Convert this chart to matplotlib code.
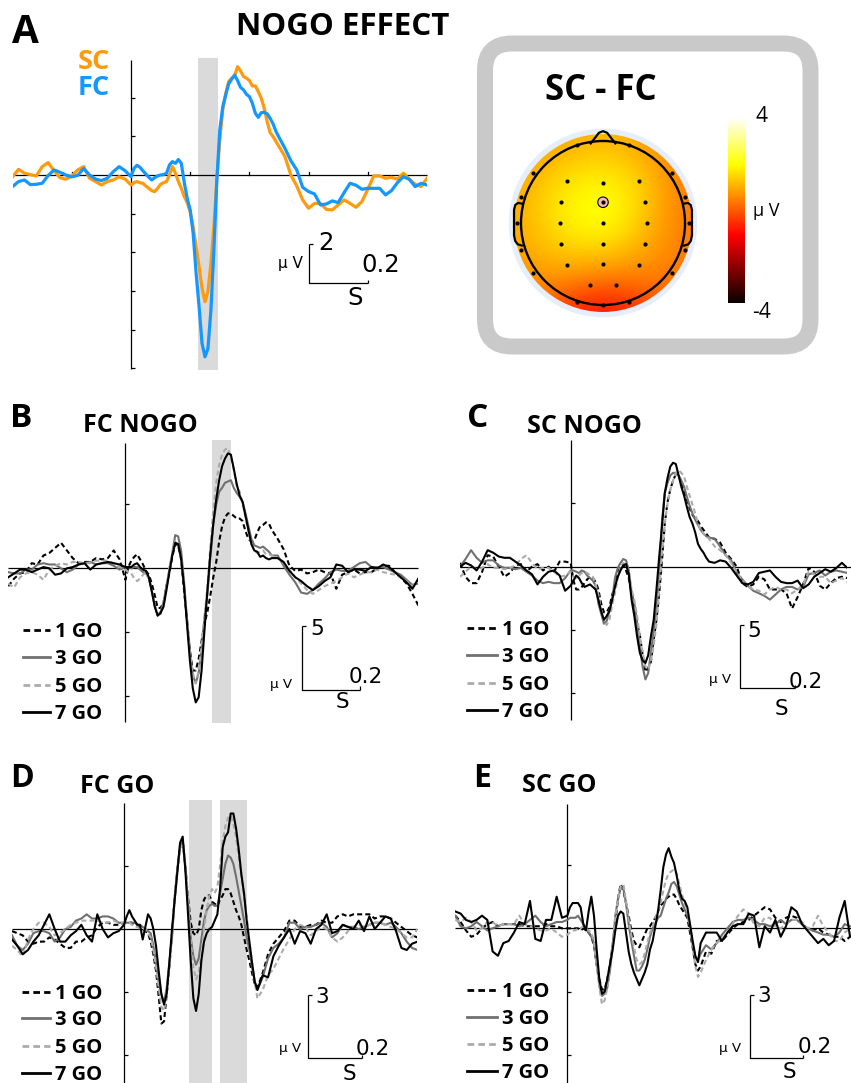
import numpy as np
import matplotlib
matplotlib.use('Agg')
import matplotlib.pyplot as plt
from matplotlib.patches import FancyBboxPatch, Circle

plt.rcParams['font.family'] = ['Open Sans', 'DejaVu Sans']

# ---------------- time axes (s) ----------------
T_NOGO = np.round(np.concatenate([np.arange(-0.40, -0.001, 0.02),
                                  np.arange(0.00, 0.495, 0.01),
                                  np.arange(0.50, 1.001, 0.02)]), 3)
T_GO = np.round(np.concatenate([np.arange(-0.42, -0.001, 0.02),
                                np.arange(0.00, 0.495, 0.01),
                                np.arange(0.50, 1.101, 0.02)]), 3)

# ---------------- panel A: NOGO effect (uV) ----------------
A_SC = [-0.09, 0.29, 0.09, 0.02, -0.05, 0.43, 0.64, 0.22, -0.14, -0.22,
        -0.05, 0.26, 0.43, -0.17, -0.34, -0.52, -0.34, -0.26, -0.09, -0.21,
        -0.52, -0.40, -0.34, -0.40, -0.43, -0.57, -0.69, -0.81, -0.86, -0.69,
        -0.48, -0.40, -0.34, 0.00, 0.43, 0.09, -0.34, -0.69, -1.12, -1.43,
        -1.90, -2.67, -3.71, -4.74, -5.86, -6.55, -6.03, -4.57, -2.67, -0.26,
        1.81, 3.36, 4.22, 4.83, 5.00, 5.12, 5.60, 5.38, 5.09, 5.00,
        4.88, 4.60, 4.60, 4.31, 3.97, 3.45, 2.76, 2.19, 1.98, 1.72,
        1.47, 0.95, 0.00, -0.57, -1.29, -1.72, -1.47, -1.47, -1.78, -1.81,
        -1.55, -1.29, -1.47, -1.67, -1.38, -0.74, -0.05, -0.05, -0.17, -0.12,
        -0.22, 0.09, -0.22, -0.48, -0.60, -0.17]
A_FC = [-0.60, -0.34, -0.26, -0.50, -0.48, -0.43, -0.03, 0.26, 0.14, 0.00,
        -0.10, -0.02, 0.33, 0.00, -0.21, -0.29, -0.17, 0.17, 0.43, 0.22,
        -0.09, 0.34, 0.50, 0.40, 0.22, 0.05, -0.12, -0.26, -0.14, -0.05,
        0.00, 0.02, 0.09, 0.52, 0.69, 0.60, 0.80, 0.60, -0.40, -1.21,
        -1.81, -3.02, -5.09, -6.81, -8.71, -9.40, -8.97, -6.98, -3.88, -0.26,
        2.33, 3.53, 4.14, 4.71, 4.95, 5.16, 4.88, 4.53, 4.40, 4.17,
        4.05, 3.71, 3.19, 2.98, 3.22, 3.24, 3.16, 2.93, 2.64, 2.24,
        1.95, 1.38, 0.74, 0.26, -0.64, -0.86, -0.98, -1.55, -1.50, -1.34,
        -1.43, -0.91, -0.43, -0.53, -0.74, -0.69, -0.69, -0.69, -1.03, -0.81,
        -0.40, -0.09, -0.22, -0.60, -0.43, -0.52]

# ---------------- panel B: FC NOGO ----------------
B_1GO = [-1.4, -0.8, -0.4, -0.3, 0.4, 0.3, 1.0, 1.2, 1.6, 2.0,
         1.4, 0.8, 0.4, 0.5, 0.5, 0.8, 0.7, 0.8, 1.4, 0.7,
         -0.9, 0.1, 0.6, 0.9, 1.1, 0.7, 0.3, -0.2, -0.5, -1.2,
         -2.1, -3.1, -3.1, -2.7, -1.4, -0.3, 0.9, 1.9, 1.8, 0.7,
         -1.7, -4.0, -6.4, -8.0, -8.0, -7.1, -5.7, -4.3, -3.4, -2.1,
         -0.7, 0.5, 2.1, 3.3, 4.0, 4.3, 4.3, 4.1, 3.9, 3.9,
         3.7, 2.9, 2.3, 2.1, 2.2, 2.8, 3.3, 3.4, 3.6, 3.5,
         3.0, 2.3, 1.5, 0.2, -0.2, -0.1, -0.4, -0.3, -0.1, -0.3,
         -0.4, -1.6, -0.5, -0.3, -0.1, -0.4, -0.3, -0.3, 0.0, 0.2,
         0.2, -0.3, -0.7, -1.2, -2.0, -2.9]
B_3GO = [-0.3, -0.4, -0.4, -0.1, -0.1, 0.3, 0.4, 0.3, 0.3, 0.0,
         -0.3, -0.1, 0.3, 0.4, 0.5, 0.3, 0.4, 0.4, 0.2, -0.1,
         0.1, 0.1, 0.0, 0.1, 0.1, -0.1, -0.3, -0.4, -0.8, -1.8,
         -2.9, -3.7, -3.4, -2.7, -1.4, -0.1, 1.2, 2.6, 2.5, 1.4,
         -1.0, -4.0, -6.4, -8.4, -9.0, -8.2, -6.3, -3.8, -2.0, 0.7,
         3.5, 5.0, 6.0, 6.3, 6.7, 6.8, 6.9, 6.3, 5.9, 5.6,
         5.2, 4.3, 3.3, 2.3, 1.8, 1.7, 1.6, 1.7, 1.5, 1.3,
         1.0, 1.0, 0.2, -0.5, -1.1, -1.9, -2.0, -1.7, -1.2, -0.8,
         -0.3, -0.1, -0.2, -0.2, 0.1, 0.4, 0.5, 0.1, 0.1, 0.1,
         -0.1, -0.3, -0.5, -0.9, -1.3, -1.2]
B_5GO = [-1.2, -1.5, -0.7, -0.4, -0.3, -0.5, -0.9, -0.1, 0.2, 0.4,
         0.3, 0.5, 0.5, 0.4, 0.4, 0.6, 0.6, 0.6, 0.4, 0.1,
         -0.1, -0.3, -0.4, -0.8, -1.0, -0.8, -0.5, -0.3, -0.8, -1.7,
         -2.9, -3.5, -3.6, -2.9, -1.6, 0.0, 1.2, 2.1, 1.8, 0.7,
         -1.2, -3.8, -6.4, -8.2, -9.0, -8.0, -6.1, -3.8, -1.4, 1.7,
         4.6, 6.7, 8.1, 8.9, 9.3, 9.4, 8.7, 7.7, 6.4, 6.0,
         5.1, 4.0, 2.9, 1.9, 1.4, 1.2, 1.3, 1.4, 1.1, 1.1,
         1.0, 0.8, 0.4, -0.1, -0.7, -1.2, -1.7, -2.0, -1.7, -1.4,
         -1.2, -1.0, -0.7, -0.4, -0.7, -0.5, -0.3, -0.3, -0.1, -0.3,
         -0.4, -0.5, -0.7, -1.0, -1.4, -1.0]
B_7GO = [-0.7, -0.4, -0.1, -0.1, -0.3, -0.1, 0.1, 0.0, -0.5, -0.4,
         0.0, 0.1, 0.3, 0.4, -0.1, 0.3, 0.4, 0.5, 0.4, 0.3,
         0.1, 0.1, 0.1, 0.3, 0.4, 0.1, -0.1, -0.2, -0.7, -1.8,
         -3.0, -3.7, -3.5, -3.0, -1.7, -0.3, 1.0, 2.0, 1.9, 0.8,
         -1.4, -4.3, -7.2, -9.4, -10.5, -10.1, -8.0, -4.8, -1.7, 1.2,
         3.5, 5.4, 6.9, 8.0, 8.6, 9.0, 8.9, 7.8, 6.6, 5.7,
         5.2, 4.1, 3.0, 1.9, 1.4, 1.3, 0.9, 1.0, 0.8, 0.7,
         0.8, 0.8, 0.5, -0.2, -0.7, -1.0, -1.4, -1.7, -1.4, -1.0,
         -0.7, 0.3, 0.2, -0.3, -0.1, -0.1, -0.2, 0.1, 0.0, 0.3,
         0.1, -0.3, -0.7, -1.1, -1.6, -0.8]

# ---------------- panel C: SC NOGO ----------------
C_1GO = [0.3, -0.8, -1.3, -1.3, -0.4, 0.9, 0.8, 0.0, -0.8, -0.5,
         0.1, 0.2, -0.4, 0.0, 0.2, -0.3, 0.0, -0.4, 0.4, 0.4,
         0.3, -1.1, -1.8, -1.8, -1.6, -1.3, -1.0, -0.8, -0.9, -1.2,
         -1.8, -2.9, -3.6, -3.6, -3.2, -2.2, -1.6, -0.4, -0.1, 0.2,
         -0.3, -0.9, -2.1, -3.2, -4.5, -5.4, -7.0, -8.3, -8.0, -7.5,
         -5.7, -4.2, -2.1, 0.5, 3.4, 5.1, 6.1, 6.8, 7.3, 7.2,
         6.6, 5.9, 5.3, 4.6, 4.1, 3.8, 3.6, 3.2, 2.9, 2.6,
         2.3, 2.2, 1.9, 1.1, 0.6, 0.0, -1.3, -1.6, -1.4, -0.8,
         -1.0, -1.8, -1.8, -1.8, -2.1, -3.3, -2.4, -1.4, -0.1, -0.4,
         -1.5, -1.8, -1.3, -0.9, -0.8, -0.9]
C_3GO = [0.0, 0.6, 1.3, 0.7, 0.3, 0.5, 0.5, 0.1, -0.1, -0.1,
         -0.2, -0.1, -0.4, -0.7, -1.1, -1.3, -1.2, -1.3, -1.3, -0.9,
         -0.3, -0.3, -0.4, -0.5, -0.3, -0.4, -0.7, -0.9, -1.1, -1.5,
         -2.9, -3.7, -4.5, -4.3, -3.5, -2.6, -0.9, -0.1, 0.3, 0.6,
         0.5, -0.3, -2.0, -2.9, -4.5, -6.4, -7.9, -8.9, -8.4, -6.8,
         -5.1, -3.4, -0.7, 3.6, 5.8, 6.6, 7.2, 7.4, 7.4, 7.2,
         6.8, 6.3, 5.5, 4.8, 4.2, 3.7, 3.3, 2.9, 2.6, 2.4,
         2.3, 2.2, 1.6, 0.9, 0.5, -0.5, -1.0, -1.5, -1.9, -2.1,
         -2.3, -2.6, -2.2, -1.8, -1.6, -1.6, -1.8, -1.6, -0.6, -0.5,
         -0.3, -0.7, -0.4, -0.3, -0.4, -0.5]
C_5GO = [-0.8, -0.4, 0.0, -0.2, -0.1, 0.2, -0.1, -0.1, -0.2, -0.1,
         0.1, 0.6, 0.9, 0.3, -0.2, -0.1, -0.1, -0.4, -0.8, -0.7,
         -0.4, -0.8, -0.9, -0.7, -0.5, -0.4, -0.5, -0.7, -0.8, -1.4,
         -2.2, -3.4, -4.3, -4.6, -4.2, -3.0, -2.1, -0.9, -0.1, 0.3,
         0.1, -0.4, -1.8, -2.6, -3.9, -5.5, -6.7, -7.9, -8.1, -7.4,
         -6.2, -4.5, -1.8, 1.1, 3.4, 5.0, 6.1, 6.8, 7.4, 7.6,
         7.4, 7.1, 6.3, 5.6, 4.9, 4.2, 3.4, 2.9, 2.6, 2.4,
         2.2, 1.6, 1.3, 0.9, 0.3, -0.5, -1.1, -1.5, -1.8, -1.9,
         -2.2, -1.8, -1.6, -1.8, -1.8, -2.1, -1.8, -1.4, -0.4, -0.6,
         -0.8, -0.8, -1.3, -1.1, -0.9, -1.2]
C_7GO = [0.0, 0.3, 0.1, -0.3, 0.4, 1.3, 1.1, 0.8, 0.7, 0.7,
         0.4, 0.1, -0.3, -0.6, -1.4, -0.8, -0.4, -0.3, -0.7, -1.9,
         -1.5, -1.1, -0.7, -0.9, -1.3, -1.6, -1.5, -1.4, -1.6, -1.8,
         -2.6, -3.5, -4.2, -3.9, -3.5, -2.6, -1.6, -0.8, -0.3, 0.1,
         0.2, -0.6, -2.6, -3.9, -5.5, -6.8, -7.4, -7.6, -7.0, -5.5,
         -4.2, -1.8, 0.8, 3.2, 5.8, 7.0, 7.9, 8.2, 8.1, 7.2,
         6.3, 5.6, 4.7, 3.9, 3.4, 2.7, 1.8, 1.4, 1.1, 0.7,
         0.4, 0.3, 0.5, 0.4, -0.1, -0.7, -1.3, -1.4, -1.2, -0.5,
         -0.4, -0.3, -0.8, -1.2, -1.3, -1.3, -1.1, -1.7, -1.4, -0.8,
         -0.5, -0.2, -0.4, -0.1, 0.3, -0.1]

# ---------------- panel D: FC GO ----------------
D_1GO = [-0.1, -0.2, -0.3, -0.6, -0.7, -0.6, -0.6, -0.4, -0.5, -0.7,
         -0.9, -0.9, -0.6, -0.6, -0.4, -0.3, 0.1, 0.3, 0.3, 0.2,
         0.2,
         0.3, 0.3, 0.3, 0.3, 0.2, 0.2, 0.1, 0.0, -0.1, -0.2,
         -0.6, -1.2, -2.0, -3.2, -4.5, -4.4, -3.1, -1.8, -0.2, 1.5,
         2.8, 3.9, 4.2, 3.0, 1.5, 0.3, -0.2, -0.3, 0.0, 0.9,
         1.4, 1.6, 1.6, 1.3, 1.2, 1.1, 1.4, 1.6, 1.9, 1.9,
         1.7, 1.3, 0.9, 0.6, 0.2, -0.4, -1.0, -1.5, -2.1, -2.6,
         -2.8, -2.1, -1.2, -0.7, -0.4, -0.1, 0.4, 0.4, 0.1, 0.1,
         0.2, 0.2, 0.4, 0.3, 0.3, 0.6, 0.7, 0.6, 0.7, 0.7,
         0.7, 0.7, 0.5, 0.6, 0.6, 0.5, 0.3, 0.1, -0.1, -0.3,
         -0.4]
D_3GO = [-0.3, -0.8, -1.0, -0.7, -0.2, -0.1, -0.1, -0.2, -0.6, -0.4,
         0.0, 0.1, 0.4, 0.5, 0.7, 0.5, 0.5, 0.6, 0.6, 0.5,
         0.3,
         0.3, 0.3, 0.3, 0.3, 0.3, 0.2, 0.2, 0.1, 0.0, -0.1,
         -0.2, -0.8, -1.6, -2.5, -3.1, -3.5, -2.8, -1.6, -0.4, 1.5,
         2.9, 3.9, 4.2, 3.0, 1.2, -0.4, -1.3, -1.7, -1.4, -0.5,
         0.4, 0.9, 1.1, 1.2, 1.1, 1.1, 1.7, 2.4, 3.1, 3.5,
         3.4, 3.1, 2.5, 1.8, 1.1, 0.4, -0.4, -1.0, -1.8, -2.5,
         -2.9, -2.3, -1.4, -0.9, -0.7, -0.4, 0.3, 0.3, 0.0, 0.1,
         0.1, 0.2, 0.3, 0.1, -0.4, -0.2, 0.2, 0.1, 0.1, 0.0,
         0.1, 0.2, 0.3, 0.3, 0.2, 0.3, 0.1, -0.2, -0.6, -0.9,
         -1.0]
D_5GO = [-0.8, -1.0, -1.3, -0.5, 0.0, 0.3, 0.3, 0.1, -0.3, -0.2,
         0.0, 0.2, 0.3, 0.4, 0.4, 0.4, 0.4, 0.3, 0.3, 0.4,
         0.3,
         0.3, 0.3, 0.3, 0.2, 0.1, 0.1, 0.0, 0.0, 0.0, -0.2,
         -0.4, -1.0, -1.8, -2.8, -3.7, -3.9, -3.1, -1.8, -0.2, 1.4,
         2.7, 3.8, 4.0, 3.0, 1.4, -0.5, -1.8, -2.4, -2.1, -1.2,
         0.0, 0.9, 1.6, 1.9, 1.7, 2.0, 3.0, 4.2, 4.9, 5.3,
         5.4, 5.0, 4.4, 3.4, 2.5, 1.5, 0.6, -0.6, -1.6, -2.5,
         -3.3, -2.9, -2.2, -1.9, -1.4, -0.9, -0.5, 0.0, 0.2, 0.1,
         -0.3, -0.1, 0.1, 0.0, -0.4, -0.6, -0.4, -0.1, 0.1, 0.2,
         0.1, 0.2, 0.3, 0.3, 0.2, 0.1, 0.0, -0.2, -0.4, -0.4,
         0.0]
D_7GO = [-0.5, -0.8, -1.2, -1.0, -0.6, -0.3, 0.2, 0.7, 0.0, -0.6,
         -0.6, -0.3, -0.1, 0.2, -0.3, -0.6, 0.7, 0.0, -0.4, -0.2,
         -0.1,
         0.2, 0.6, 0.9, 0.6, 0.4, 0.2, 0.2, -0.5, 0.1, 0.7,
         0.5, 0.0, -0.8, -2.0, -3.1, -3.6, -3.1, -1.6, 0.0, 1.4,
         2.7, 4.1, 4.4, 2.8, 0.7, -1.5, -3.3, -3.9, -3.1, -1.5,
         -0.6, -0.2, 0.0, 0.1, 0.4, 0.7, 1.9, 3.9, 4.4, 4.6,
         5.5, 5.5, 4.8, 3.8, 2.6, 1.7, 0.4, -0.6, -1.6, -2.5,
         -2.9, -2.2, -2.3, -1.3, -0.8, -0.4, 0.0, -0.7, -0.1, -0.2,
         -0.7, 0.0, 0.2, 0.7, -0.2, -0.1, 0.2, 0.1, 0.0, 0.4,
         -0.1, 0.6, 0.0, 0.3, 0.6, 0.5, -0.1, -0.9, -1.0, -0.7,
         -0.6]

# ---------------- panel E: SC GO (visible up to 1.06 s) ----------------
E_1GO = [0.6, 0.3, -0.1, -0.4, -0.3, 0.0, 0.2, 0.3, 0.1, 0.2,
         0.2, 0.2, 0.2, 0.1, 0.1, 0.1, 0.1, 0.2, 0.1, 0.1,
         0.0,
         0.0, 0.0, 0.0, 0.0, 0.0, -0.1, 0.0, -0.1, -0.2, -0.4,
         -0.8, -1.7, -2.4, -2.9, -2.9, -2.4, -1.7, -0.8, 0.3, 1.4,
         2.1, 1.8, 1.2, 0.6, -0.1, -0.6, -0.8, -0.9, -0.6, -0.3,
         0.0, 0.1, 0.3, 0.5, 0.8, 1.1, 1.2, 1.4, 1.5, 1.6,
         1.6, 1.4, 1.1, 0.9, 0.7, 0.5, -0.2, -0.9, -1.7, -2.0,
         -1.8, -1.1, -1.2, -0.6, -0.6, -0.3, 0.0, 0.2, 0.3, 0.4,
         0.6, 0.8, 1.0, 0.9, 0.5, 0.3, 0.5, 0.6, 0.5, 0.2,
         0.0, -0.1, 0.0, -0.2, -0.3, -0.4, -0.4, -0.6, -0.4]
E_3GO = [0.6, 0.1, 0.0, 0.1, 0.3, 0.1, -0.1, 0.0, 0.1, 0.2,
         0.2, 0.2, 0.1, 0.2, 0.4, 0.6, 0.3, 0.1, 0.2, 0.3,
         0.3,
         0.4, 0.5, 0.5, 0.5, 0.6, 0.4, 0.2, 0.0, -0.2, -0.4,
         -0.7, -1.7, -2.7, -3.2, -3.1, -2.8, -2.0, -0.9, 0.6, 1.4,
         1.9, 1.9, 1.2, 0.2, -0.6, -1.3, -2.0, -2.0, -1.8, -1.5,
         -1.0, -0.4, 0.0, 0.2, 0.5, 0.6, 1.0, 1.4, 1.7, 2.1,
         2.2, 2.0, 1.6, 1.2, 0.9, 0.6, 0.1, -0.8, -1.4, -1.5,
         -1.2, -0.8, -1.0, -0.7, -0.3, 0.0, 0.3, 0.4, 0.4, 0.5,
         0.4, 0.2, 0.2, 0.1, 0.2, 0.4, 0.2, 0.4, 0.4, 0.2,
         0.0, -0.1, -0.2, -0.3, -0.3, -0.4, -0.2, 0.2, 0.1]
E_5GO = [0.4, 0.3, 0.5, 0.3, -0.1, 0.0, 0.3, 0.3, 0.1, 0.2,
         0.2, 0.2, 0.6, 0.2, 0.1, 0.0, -0.1, -0.1, 0.0, -0.2,
         -0.4,
         -0.3, -0.2, -0.1, -0.1, 0.0, 0.0, 0.1, 0.0, -0.1, -0.2,
         -0.6, -1.7, -2.8, -3.6, -3.4, -2.8, -1.8, -0.7, 0.6, 1.4,
         2.0, 2.1, 1.3, 0.4, -0.3, -0.9, -1.5, -1.7, -1.6, -1.2,
         -0.7, -0.2, 0.1, 0.5, 0.8, 1.2, 1.8, 2.3, 2.6, 2.7,
         2.8, 2.6, 2.1, 1.6, 1.2, 0.8, 0.1, -0.9, -1.8, -2.3,
         -2.1, -1.5, -1.0, -0.7, -0.5, -0.2, 0.2, 0.6, 0.9, 0.7,
         0.2, 0.1, 0.5, 0.5, 0.1, 0.0, 0.2, 0.4, 0.4, 0.3,
         0.0, 0.1, 0.6, 0.1, -0.2, -0.6, -0.6, -0.2, 0.0]
E_7GO = [0.8, 0.7, 0.4, 0.3, 0.4, 0.6, 0.4, -1.1, -1.3, -0.7,
         -0.6, -0.2, 0.3, 0.2, 1.3, -0.5, -0.6, 0.4, 0.4, 1.5,
         0.5,
         0.6, 1.0, 1.2, 1.2, 1.2, 1.0, 0.2, -0.1, 0.8, 1.5,
         0.6, -1.0, -2.4, -3.1, -3.0, -2.4, -1.7, -1.0, -0.1, 0.6,
         0.8, 0.7, -0.2, -1.1, -1.7, -2.1, -2.4, -2.7, -2.4, -2.1,
         -1.7, -1.0, -0.6, 0.1, 0.8, 1.8, 2.9, 3.5, 3.8, 3.4,
         3.1, 2.5, 1.8, 1.4, 1.3, 1.0, 0.2, -0.6, -1.3, -1.6,
         -0.7, -0.2, -0.2, -0.2, -0.6, -0.2, 0.1, 0.2, 0.2, 0.7,
         0.6, -0.9, 0.1, -0.2, 0.4, -0.4, 0.1, 1.0, 0.8, 0.2,
         -0.1, -0.4, -0.7, -0.5, -0.8, -0.6, 0.5, 1.3, -0.4]

# ---------------- topography SC - FC (uV), rows front -> back ----------------
TOPO = [[0.8, 0.9, 1.0, 1.1, 1.0, 0.6, 0.4],
        [0.9, 1.2, 1.5, 1.6, 1.4, 0.9, 0.4],
        [1.0, 1.5, 1.9, 2.0, 1.7, 1.0, 0.4],
        [1.0, 1.5, 1.9, 2.0, 1.6, 0.9, 0.4],
        [0.9, 1.2, 1.4, 1.4, 1.1, 0.7, 0.4],
        [0.6, 0.7, 0.6, 0.4, 0.4, 0.4, 0.3],
        [0.3, 0.0, -0.6, -0.8, -0.6, -0.1, 0.2]]
ELEC_X = [-0.318, 0.318, -0.849, 0.845, -0.437, 0.0, 0.437, -1.0, 1.0, -0.51, 0.51,
          -1.05, -0.53, 0.0, 0.531, 1.05, -1.0, 1.0, -0.51, 0.0, 0.51, -0.849, 0.845,
          -0.437, 0.0, 0.437, -0.163, 0.163, -0.318, 0.0, 0.318]
ELEC_Y = [0.951, 0.951, 0.604, 0.604, 0.51, 0.49, 0.51, 0.318, 0.318, 0.253, 0.253,
          0.0, 0.0, 0.0, 0.0, 0.0, -0.327, -0.327, -0.257, -0.257, -0.257, -0.612, -0.612,
          -0.518, -0.502, -0.518, -0.755, -0.755, -0.959, -1.0, -0.959]
HIGHLIGHT = (0.0, 0.253)

CONDITIONS = ['1 GO', '3 GO', '5 GO', '7 GO']
STYLES = {'1 GO': dict(color='black', ls=(0, (2.4, 1.5))),
          '3 GO': dict(color='#707070', ls='-'),
          '5 GO': dict(color='#ABABAB', ls=(0, (2.4, 1.5))),
          '7 GO': dict(color='black', ls='-')}
ORANGE = '#FF9A0D'
BLUE = '#1497FF'
SHADE = '#DADADA'

# ---------------- figure ----------------
W, H, DPI = 851, 1083, 100
fig = plt.figure(figsize=(W / DPI, H / DPI), dpi=DPI)
fig.patch.set_facecolor('white')

ov = fig.add_axes([0, 0, 1, 1])
ov.set_xlim(0, W)
ov.set_ylim(H, 0)
ov.axis('off')


def px_axes(x0, x1, y0, y1, xlim, ylim):
    ax = fig.add_axes([x0 / W, 1 - y1 / H, (x1 - x0) / W, (y1 - y0) / H])
    ax.set_xlim(*xlim)
    ax.set_ylim(*ylim)
    ax.axis('off')
    return ax


def frame(ax, t0, t1, vbot, vtop, yticks, tlen):
    kw = dict(color='black', lw=0.9, clip_on=False, solid_capstyle='butt')
    ax.plot([t0, t1], [0, 0], **kw)
    ax.plot([0, 0], [vbot, vtop], **kw)
    for yt in yticks:
        ax.plot([0, tlen], [yt, yt], **kw)


def scalebar(ax, t, v, dv, dt, tw, th):
    kw = dict(color='black', lw=0.9, clip_on=False, solid_capstyle='butt')
    ax.plot([t, t, t + dt], [v + dv, v, v], **kw)
    ax.plot([t, t + tw], [v + dv, v + dv], **kw)
    ax.plot([t + dt, t + dt], [v, v + th], **kw)


def scaletext(xn, yn, num, xz, yz, xs, ys, xm, ym, fs, fsm):
    ov.text(xn, yn, num, fontsize=fs, family='DejaVu Sans', ha='left', va='baseline')
    ov.text(xz, yz, '0.2', fontsize=fs, family='DejaVu Sans', ha='right', va='baseline')
    ov.text(xs, ys, 'S', fontsize=fs, family='DejaVu Sans', ha='center', va='baseline')
    ov.text(xm, ym, 'μ V', fontsize=fsm, family='DejaVu Sans', ha='center', va='baseline')


def legend(x0, x1, xt, ys):
    for name, y in zip(CONDITIONS, ys):
        st = STYLES[name]
        ov.plot([x0, x1], [y, y], color=st['color'], ls=st['ls'], lw=2.0)
        ov.text(xt, y + 7, name, fontsize=14.5, fontweight='bold', ha='left', va='baseline')


def traces(ax, t, series, lw=1.5):
    for name, vals in zip(CONDITIONS, series):
        st = STYLES[name]
        ax.plot(t[:len(vals)], vals, color=st['color'], ls=st['ls'], lw=lw)


# ---------- Panel A ----------
axA = px_axes(12.6, 427.0, 50, 375, (-0.4, 1.0), (-10.34, 6.46))
axA.fill_between([0.226, 0.295], -10.08, 6.05, color=SHADE, lw=0)
frame(axA, -0.4, 1.0, -10.05, 5.95, [4, 2, -2, -4, -6, -8, -10], 0.0135)
for xt in [-0.2, 0.2, 0.4, 0.6, 0.8]:
    axA.plot([xt, xt], [0, 0.16], color='black', lw=0.9)
axA.plot(T_NOGO, A_SC, color=ORANGE, lw=2.3)
axA.plot(T_NOGO, A_FC, color=BLUE, lw=2.3)
scalebar(axA, 0.601, -5.58, 2, 0.2, 0.014, 0.13)
scaletext(318, 250, '2', 400, 272, 355, 305, 290, 268, 17.5, 11)

ov.text(12, 43, 'A', fontsize=28, fontweight='bold', ha='left', va='baseline')
ov.text(343, 35, 'NOGO EFFECT', fontsize=22.5, fontweight='bold', ha='center', va='baseline')
ov.text(78, 69, 'SC', fontsize=19.5, fontweight='bold', color=ORANGE, ha='left', va='baseline')
ov.text(78, 95, 'FC', fontsize=19.5, fontweight='bold', color=BLUE, ha='left', va='baseline')

# ---------- topography ----------
ov.add_patch(FancyBboxPatch((485, 43.5), 325.5, 303, boxstyle='round,pad=0,rounding_size=27',
                            lw=11.5, ec='#C9C9C9', fc='white'))
ov.text(601, 100, 'SC - FC', fontsize=25, fontweight='bold', ha='center', va='baseline')

axT = px_axes(503, 703, 123, 323, (-1.2195, 1.2195), (-1.2195, 1.2195))
axT.add_patch(Circle((0, 0), 1.15, color='#E6EEFA', lw=0, zorder=1))
im = axT.imshow(np.array(TOPO), cmap='hot', vmin=-4, vmax=4, origin='upper',
                extent=(-7 / 6, 7 / 6, -7 / 6, 7 / 6), interpolation='bicubic', zorder=2)
im.set_clip_path(Circle((0, 0), 1.085, transform=axT.transData))
axT.add_patch(Circle((0, 0), 1.0, fill=False, ec='black', lw=1.7, zorder=3))
axT.plot([-0.15, -0.05, 0.0, 0.05, 0.15], [0.97, 1.10, 1.12, 1.10, 0.97],
         color='black', lw=1.6, zorder=3, solid_joinstyle='round')
for s in (-1, 1):
    axT.plot([s * -0.985, s * -1.035, s * -1.07, s * -1.085, s * -1.085, s * -1.07,
              s * -1.04, s * -0.99],
             [0.235, 0.245, 0.22, 0.16, -0.15, -0.22, -0.26, -0.275],
             color='black', lw=1.6, zorder=3, solid_joinstyle='round')
axT.scatter(ELEC_X, ELEC_Y, s=9, color='black', zorder=4, lw=0)
axT.add_patch(Circle(HIGHLIGHT, 0.064, fc='#F3B9B9', ec='black', lw=0.8, zorder=5))
axT.scatter([HIGHLIGHT[0]], [HIGHLIGHT[1]], s=9, color='black', zorder=6, lw=0)
axT.set_aspect('equal')

cax = fig.add_axes([728 / W, 1 - 303 / H, 17 / W, 186 / H])
cb = fig.colorbar(im, cax=cax)
cb.outline.set_visible(False)
cb.set_ticks([])
ov.text(755, 122, '4', fontsize=15, ha='left', va='baseline')
ov.text(752, 318, '-4', fontsize=15, ha='left', va='baseline')
ov.text(753, 216, 'μ V', fontsize=13, ha='left', va='baseline')

# ---------- Panel B ----------
axB = px_axes(8.3, 418.3, 435, 730, (-0.4, 1.0), (-12.66, 10.44))
axB.fill_between([0.294, 0.360], -12.1, 10.05, color=SHADE, lw=0)
frame(axB, -0.4, 1.0, -12.0, 9.8, [5, -5, -10], 0.0137)
traces(axB, T_NOGO, [B_1GO, B_3GO, B_5GO, B_7GO])
scalebar(axB, 0.602, -9.5, 5, 0.2, 0.014, 0.25)
scaletext(310, 635, '5', 383, 683, 342.5, 708, 281, 688, 15.5, 9.7)
ov.text(10, 427, 'B', fontsize=24, fontweight='bold', ha='left', va='baseline')
ov.text(83, 432, 'FC NOGO', fontsize=18, fontweight='bold', ha='left', va='baseline')
legend(23, 50, 55, [630, 657, 685, 712])

# ---------- Panel C ----------
axC = px_axes(460, 847.4, 435, 730, (-0.4, 1.0), (-12.89, 10.39))
frame(axC, -0.4, 1.02, -12.1, 10.0, [5, -5, -10], 0.0145)
traces(axC, T_NOGO, [C_1GO, C_3GO, C_5GO, C_7GO])
scalebar(axC, 0.612, -9.6, 5, 0.2, 0.015, 0.25)
scaletext(747, 637, '5', 823, 688, 781, 715, 720, 683, 15.5, 9.7)
ov.text(467, 427, 'C', fontsize=24, fontweight='bold', ha='left', va='baseline')
ov.text(527, 433, 'SC NOGO', fontsize=18, fontweight='bold', ha='left', va='baseline')
legend(467, 497, 502, [628, 655, 683, 710])

# ---------- Panel D ----------
axD = px_axes(12, 417.4, 795, 1083, (-0.42, 1.10), (-7.33, 6.38))
axD.fill_between([0.245, 0.33], -7.4, 6.14, color=SHADE, lw=0)
axD.fill_between([0.36, 0.46], -7.4, 6.14, color=SHADE, lw=0)
frame(axD, -0.42, 1.10, -7.4, 6.0, [3, -3, -6], 0.015)
traces(axD, T_GO, [D_1GO, D_3GO, D_5GO, D_7GO])
scalebar(axD, 0.691, -6.14, 3, 0.2, 0.015, 0.15)
scaletext(315, 1003, '3', 390, 1055, 349, 1080, 290, 1052, 15.5, 9.7)
ov.text(10, 787, 'D', fontsize=23, fontweight='bold', ha='left', va='baseline')
ov.text(80, 793, 'FC GO', fontsize=18, fontweight='bold', ha='left', va='baseline')
legend(22, 50, 55, [992, 1018, 1046, 1073])

# ---------- Panel E ----------
axE = px_axes(455.3, 860.7, 795, 1083, (-0.42, 1.10), (-7.33, 6.32))
frame(axE, -0.42, 1.10, -7.4, 5.9, [3, -3, -6], 0.015)
traces(axE, T_GO, [E_1GO, E_3GO, E_5GO, E_7GO])
scalebar(axE, 0.685, -6.16, 3, 0.2, 0.015, 0.15)
scaletext(757, 1002, '3', 832, 1053, 789, 1078, 730, 1052, 15.5, 9.7)
ov.text(473, 787, 'E', fontsize=23, fontweight='bold', ha='left', va='baseline')
ov.text(522, 792, 'SC GO', fontsize=18, fontweight='bold', ha='left', va='baseline')
legend(467, 497, 502, [990, 1017, 1044, 1071])

fig.savefig('out.png', dpi=DPI, facecolor='white')
